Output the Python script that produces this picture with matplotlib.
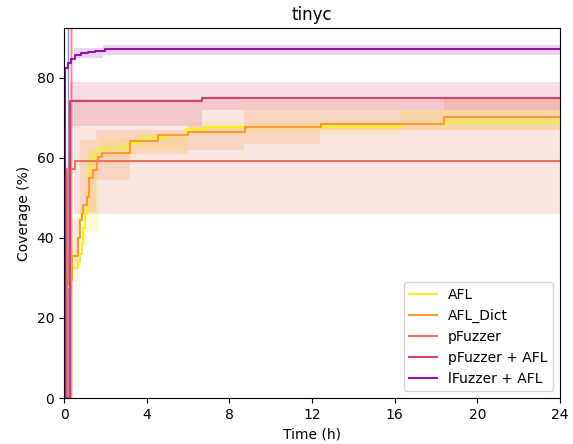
import numpy as np
import matplotlib
matplotlib.use("Agg")
import matplotlib.pyplot as plt

# coverage over time (step curves)
afl_t = [0.2, 0.3, 0.7, 0.78, 0.85, 0.93, 1.04, 1.15, 1.2, 1.3, 1.45, 1.65, 3.1, 3.7, 5.0, 5.9, 6.9, 16.3, 18.5, 24]
afl_v = [27.8, 32.5, 34.0, 36.0, 38.7, 42.4, 46.2, 52.0, 58.0, 60.0, 61.5, 62.4, 63.7, 64.9, 65.75, 67.2, 67.7, 68.5, 69.0, 69.0]
afl_band_t = [0.2, 0.7, 1.1, 1.7, 3.5, 6.0, 16.3, 24]
afl_lo = [29.0, 38.0, 41.5, 60.0, 62.0, 66.0, 67.0, 67.0]
afl_hi = [37.5, 47.0, 62.0, 65.0, 66.0, 69.0, 72.0, 72.0]

dict_t = [0.05, 0.08, 0.37, 0.66, 0.77, 0.85, 0.93, 1.1, 1.2, 1.4, 1.58, 1.66, 1.82, 3.2, 4.56, 6.0, 8.76, 12.43, 18.4, 24]
dict_v = [23.7, 29.5, 35.5, 40.0, 44.5, 46.0, 48.2, 50.3, 55.0, 57.0, 59.5, 60.3, 61.2, 64.3, 65.75, 66.4, 67.7, 68.5, 70.2, 70.2]
dict_band_t = [0.08, 0.4, 0.75, 1.55, 3.2, 6.0, 8.7, 12.4, 18.4, 24]
dict_lo = [26.0, 33.0, 46.5, 54.5, 61.0, 62.0, 63.5, 67.0, 67.0, 67.0]
dict_hi = [33.0, 45.0, 64.5, 67.0, 67.0, 68.0, 72.0, 72.0, 74.7, 74.7]

pf_t = [0.0, 0.16, 0.52, 24]
pf_v = [0.0, 57.2, 59.2, 59.2]
pf_band_t = [0.5, 24]
pf_lo = [46.0, 46.0]
pf_hi = [74.7, 74.7]

pfa_t = [0.0, 0.28, 6.66, 24]
pfa_v = [0.0, 74.2, 75.1, 75.1]
pfa_band_t = [0.28, 6.66, 24]
pfa_lo = [68.0, 72.0, 72.0]
pfa_hi = [79.0, 79.0, 79.0]

lf_t = [0.0, 0.05, 0.2, 0.35, 0.52, 0.84, 1.16, 1.5, 2.0, 24]
lf_v = [0.0, 82.5, 83.7, 84.7, 85.75, 86.2, 86.5, 86.8, 87.2, 87.2]
lf_band_t = [0.5, 1.9, 24]
lf_lo = [85.0, 85.7, 85.7]
lf_hi = [87.5, 88.3, 88.3]

names = ["AFL", "AFL_Dict", "pFuzzer", "pFuzzer + AFL", "lFuzzer + AFL"]
colors = ["#f5f224", "#f89c33", "#ee7256", "#d2436c", "#9214a8"]

series = [
    (afl_t, afl_v, afl_band_t, afl_lo, afl_hi),
    (dict_t, dict_v, dict_band_t, dict_lo, dict_hi),
    (pf_t, pf_v, pf_band_t, pf_lo, pf_hi),
    (pfa_t, pfa_v, pfa_band_t, pfa_lo, pfa_hi),
    (lf_t, lf_v, lf_band_t, lf_lo, lf_hi),
]

fig = plt.figure(figsize=(5.73, 4.44), dpi=100)
ax = fig.add_axes([0.1117, 0.1036, 0.8656, 0.8334])

# markers near the start
ax.axvspan(0.29, 0.44, color="#ff9090", alpha=0.3, lw=0)
ax.axvline(0.17, color="#4040ff", alpha=0.6, lw=1)
ax.axvline(0.34, color="#ff3030", alpha=0.5, lw=1)

for (t, v, bt, lo, hi), name, c in zip(series, names, colors):
    ax.fill_between(bt, lo, hi, step="post", color=c, alpha=0.18, lw=0)
    ax.step(t, v, where="post", color=c, lw=1.5, label=name)

ax.set_xlim(0, 24)
ax.set_ylim(0, 92.5)
ax.set_xticks(np.arange(0, 25, 4))
ax.set_yticks(np.arange(0, 81, 20))
ax.set_xlabel("Time (h)")
ax.set_ylabel("Coverage (%)")
ax.set_title("tinyc")
ax.legend(loc="lower right")

plt.savefig("out.png", dpi=100, facecolor="white")
